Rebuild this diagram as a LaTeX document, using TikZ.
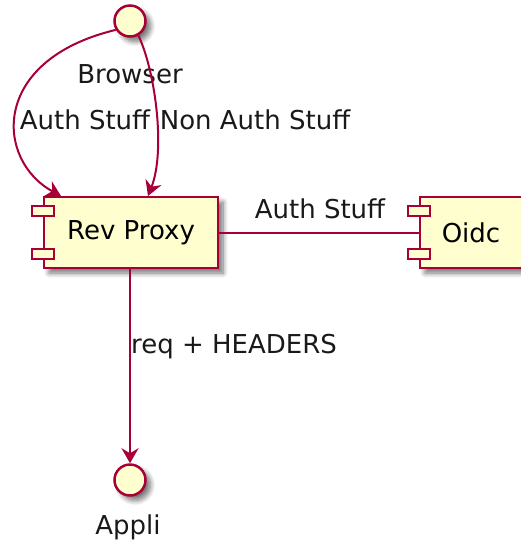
\documentclass[tikz,border=0pt]{standalone}
\usepackage{fontspec}
\setmainfont{DejaVu Sans}
\usetikzlibrary{arrows.meta,calc,shadows.blur}
\definecolor{pcrim}{HTML}{A80036}
\definecolor{pfill}{HTML}{FEFECE}
\tikzset{
  x=1pt, y=-1pt,
  lbl/.style={font=\fontsize{26}{30}\selectfont, text=black!90, inner sep=0pt},
  shad/.style={blur shadow={shadow xshift=5pt, shadow yshift=-5pt, shadow blur steps=8, shadow blur radius=5pt, shadow opacity=55}},
  iface/.style={circle, draw=pcrim, fill=pfill, line width=2.5pt, minimum size=31pt, inner sep=0pt, shad},
  comp/.style={rectangle, draw=pcrim, fill=pfill, line width=2pt, inner sep=0pt, minimum height=71pt, shad, font=\fontsize{26}{30}\selectfont},
  tab/.style={draw=pcrim, fill=pfill, line width=2pt},
  conn/.style={draw=pcrim, line width=2pt},
  arr/.style={conn, -{Stealth[length=15pt, width=17pt, inset=5pt]}},
}
\begin{document}
\begin{tikzpicture}
\useasboundingbox (0,0) rectangle (521,550);
% nodes
\node[iface] (browser) at (130,21) {};
\node[lbl] (browserlbl) at (130,74) {Browser};
\node[comp, minimum width=174pt] (rp) at (131,232.5) {Rev Proxy};
\node[comp, minimum width=102pt] (oidc) at (471,232.5) {Oidc};
\node[iface] (appli) at (130,480) {};
\node[lbl] (applilbl) at (128,527) {Appli};
% component tabs
\foreach \n in {rp,oidc}{
  \draw[tab] ($(\n.north west)+(-11pt,-10pt)$) rectangle ++(22pt,-10pt);
  \draw[tab] ($(\n.south west)+(-11pt,10pt)$) rectangle ++(22pt,10pt);
}
% connectors
\coordinate (rpL) at ($(rp.north west)+(18pt,0pt)$);
\coordinate (rpR) at ($(rp.north)+(17pt,0pt)$);
\coordinate (rpB) at ($(rp.south)+(-1pt,0pt)$);
\draw[arr] (browser.212) .. controls (-10,60) and (-5,160) .. (rpL);
\draw[arr] (browser.300) .. controls (155,70) and (166,150) .. (rpR);
\draw[conn] (rp.east) -- (oidc.west);
\draw[arr] (rpB) -- (appli.north);
% labels
\node[lbl] (l1) at (85,120) {Auth Stuff};
\node[lbl] (l2) at (255,120) {Non Auth Stuff};
\node[lbl] (l3) at (320,209) {Auth Stuff};
\node[lbl, anchor=west] (l4) at (131,347) {req + HEADERS};
\end{tikzpicture}
\end{document}
